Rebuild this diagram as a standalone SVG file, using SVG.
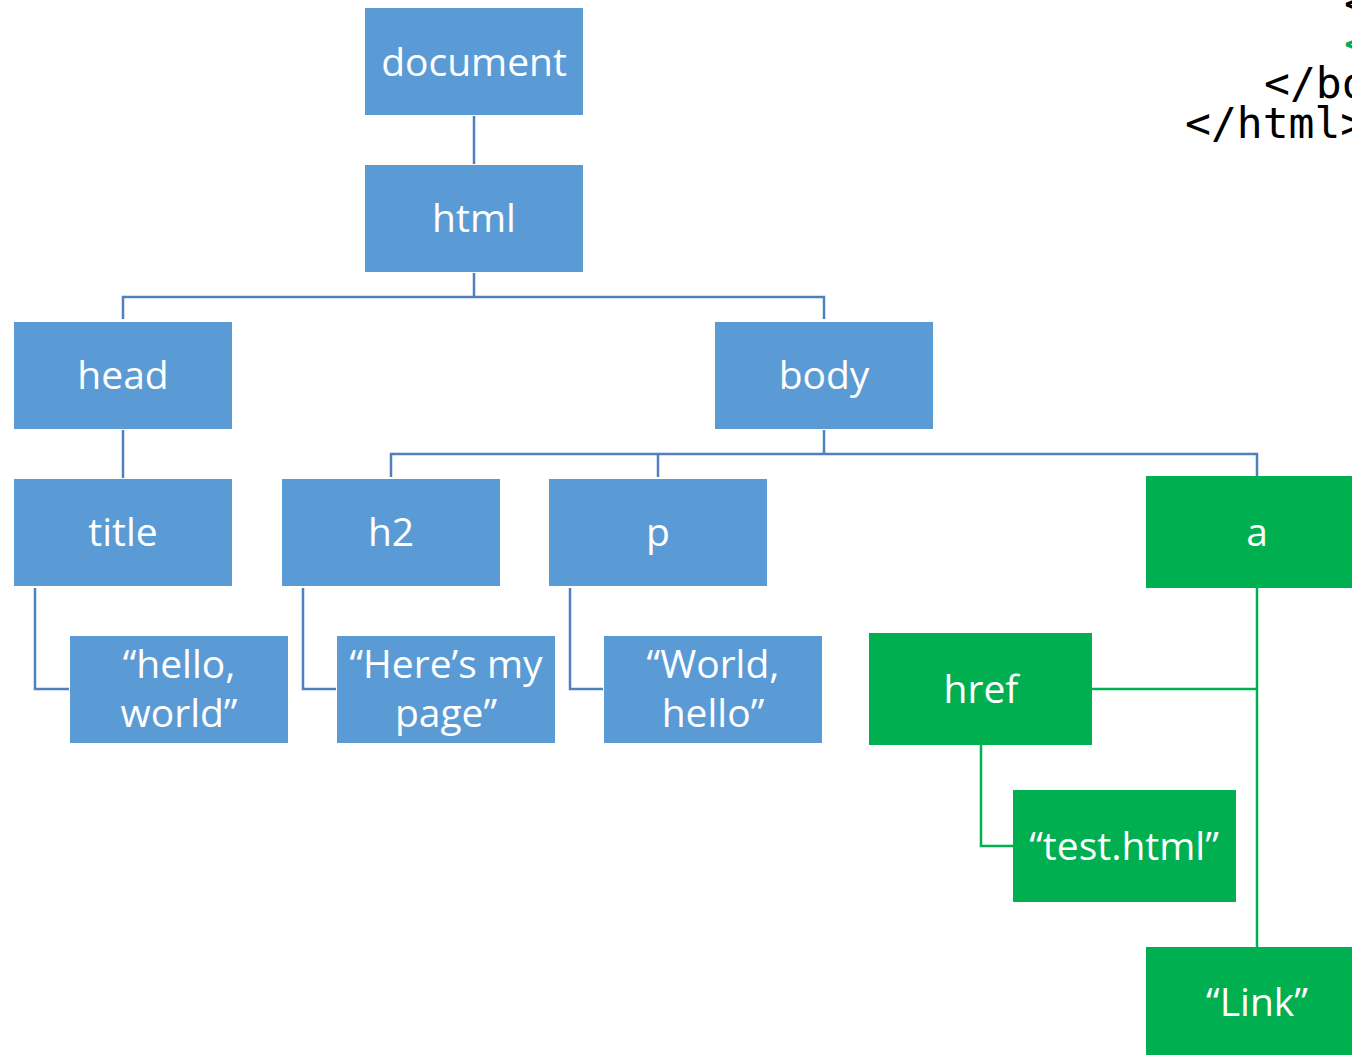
<svg xmlns="http://www.w3.org/2000/svg" width="1352" height="1055" viewBox="0 0 1352 1055">
<style>
.b{fill:#5B9BD5}
.g{fill:#00B050}
.t{font-family:"Open Sans","Liberation Sans",sans-serif;font-size:39px;fill:#fff;text-anchor:middle}
.cb{fill:none;stroke:#4F81BD;stroke-width:2.5}
.cg{fill:none;stroke:#00B050;stroke-width:2.5}
.code{font-family:"DejaVu Sans Mono",monospace;font-size:43px;fill:#000}
</style>
<rect width="1352" height="1055" fill="#fff"/>
<g id="connectors">
<path class="cb" d="M474 116V164"/>
<path class="cb" d="M474 273V297M123 319V297H824V319"/>
<path class="cb" d="M123 430V478"/>
<path class="cb" d="M824 430V454M391 477V454H1257V477M658 454V477"/>
<path class="cb" d="M35 588V689H69"/>
<path class="cb" d="M303 588V689H336"/>
<path class="cb" d="M570 588V689H603"/>
<path class="cg" d="M1257 588V948M1092 689H1257"/>
<path class="cg" d="M981 745V846H1014"/>
</g>
<g id="document"><rect class="b" x="365" y="8" width="218" height="107"/><text class="t" x="474" y="76">document</text></g>
<g id="html"><rect class="b" x="365" y="165" width="218" height="107"/><text class="t" x="474" y="232">html</text></g>
<g id="head"><rect class="b" x="14" y="322" width="218" height="107"/><text class="t" x="123" y="389">head</text></g>
<g id="body"><rect class="b" x="715" y="322" width="218" height="107"/><text class="t" x="824" y="389">body</text></g>
<g id="title"><rect class="b" x="14" y="479" width="218" height="107"/><text class="t" x="123" y="546">title</text></g>
<g id="h2"><rect class="b" x="282" y="479" width="218" height="107"/><text class="t" x="391" y="546">h2</text></g>
<g id="p"><rect class="b" x="549" y="479" width="218" height="107"/><text class="t" x="658" y="546">p</text></g>
<g id="a"><rect class="g" x="1146" y="476" width="222" height="112"/><text class="t" x="1257" y="546">a</text></g>
<g id="hello-world"><rect class="b" x="70" y="636" width="218" height="107"/><text class="t" x="179" y="678">“hello,</text><text class="t" x="179" y="727">world”</text></g>
<g id="heres-my-page"><rect class="b" x="337" y="636" width="218" height="107"/><text class="t" x="446" y="678">“Here’s my</text><text class="t" x="446" y="727">page”</text></g>
<g id="world-hello"><rect class="b" x="604" y="636" width="218" height="107"/><text class="t" x="713" y="678">“World,</text><text class="t" x="713" y="727">hello”</text></g>
<g id="href"><rect class="g" x="869" y="633" width="223" height="112"/><text class="t" x="981" y="703">href</text></g>
<g id="test-html"><rect class="g" x="1013" y="790" width="223" height="112"/><text class="t" x="1124" y="860">“test.html”</text></g>
<g id="link"><rect class="g" x="1146" y="947" width="222" height="112"/><text class="t" x="1257" y="1016">“Link”</text></g>
<g id="code">
<text class="code" x="1344" y="18">&lt;</text>
<text class="code" x="1344" y="58" style="fill:#00B050">&lt;</text>
<text class="code" x="1264" y="98">&lt;/bo</text>
<text class="code" x="1185" y="138">&lt;/html&gt;</text>
</g>
</svg>
